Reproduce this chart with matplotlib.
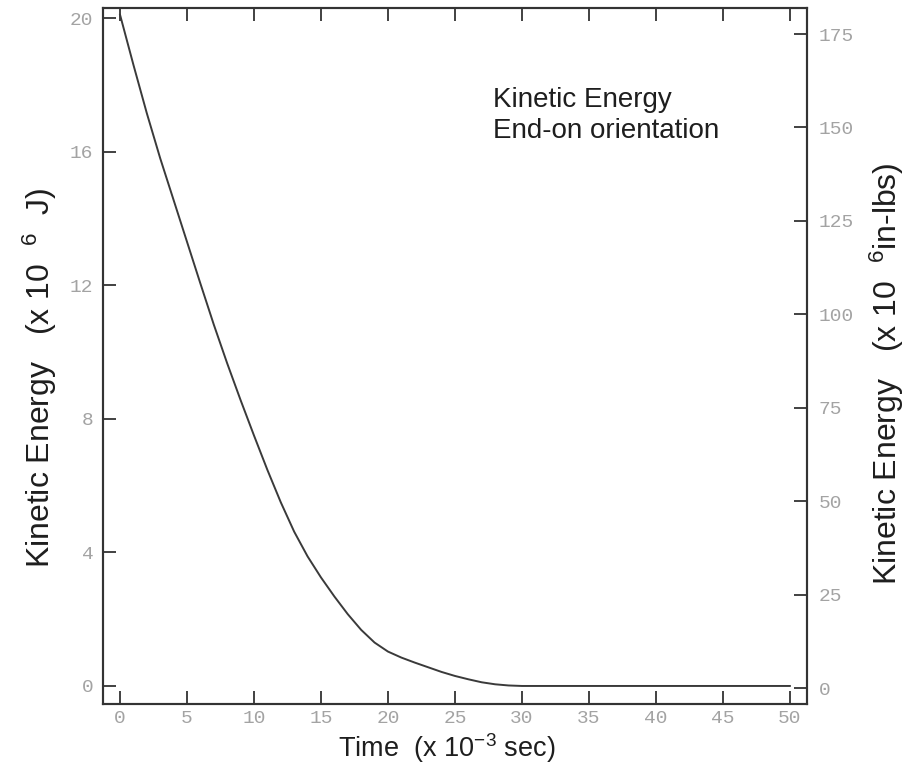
import matplotlib
matplotlib.use("Agg")
import matplotlib.pyplot as plt

plt.rcParams["font.family"] = ["Liberation Sans", "DejaVu Sans"]
plt.rcParams["mathtext.default"] = "regular"

time_ms = [0, 1, 2, 3, 4, 5, 6, 7, 8, 9, 10, 11, 12, 13, 14, 15, 16, 17, 18, 19,
           20, 21, 22, 23, 24, 25, 26, 27, 28, 29, 30, 35, 40, 45, 50]
ke_mj = [20.1, 18.6, 17.15, 15.8, 14.55, 13.3, 12.05, 10.82, 9.66, 8.56, 7.5,
         6.47, 5.5, 4.62, 3.88, 3.25, 2.68, 2.15, 1.68, 1.3, 1.03, 0.85, 0.70,
         0.56, 0.42, 0.30, 0.20, 0.11, 0.05, 0.015, 0.0, 0.0, 0.0, 0.0, 0.0]
x_ticks = [0, 5, 10, 15, 20, 25, 30, 35, 40, 45, 50]
y_ticks_left = [0, 4, 8, 12, 16, 20]
y_ticks_right = [0, 25, 50, 75, 100, 125, 150, 175]

W, H = 906, 769
fig = plt.figure(figsize=(W / 100, H / 100), dpi=100)
ax = fig.add_axes([103 / W, 1 - 704 / H, (807 - 103) / W, (704 - 8) / H])
ax.plot(time_ms, ke_mj, color="#3a3a3a", lw=1.4)
ax.set_xlim(-1.27, 51.28)
ax.set_ylim(-0.54, 20.3)

tick_font = dict(family="Liberation Mono", size=14, color="#a3a3a3")
ax.set_xticks(x_ticks)
ax.set_xticklabels([str(v) for v in x_ticks], **tick_font)
ax.set_yticks(y_ticks_left)
ax.set_yticklabels([str(v) for v in y_ticks_left], **tick_font)
ax.tick_params(axis="x", direction="in", length=9.5, width=1.3, top=True, pad=4, color="#333333")
ax.tick_params(axis="y", direction="in", length=9.5, width=1.3, pad=7, color="#333333")

ax2 = ax.twinx()
ax2.set_ylim(-4.28, 181.96)
ax2.set_yticks(y_ticks_right)
ax2.set_yticklabels([str(v) for v in y_ticks_right], **tick_font)
ax2.tick_params(axis="y", direction="in", length=9.5, width=1.3, pad=8.5, color="#333333")

for a in (ax, ax2):
    for s in a.spines.values():
        s.set_color("#333333")
        s.set_linewidth(1.5)

txt = dict(color="#1e1e1e")
fig.text(447 / W, 1 - 757 / H, "Time  (x 10$^{-3}$ sec)", ha="center", va="baseline",
         size=19.5, **txt)
fig.text(50 / W, 1 - 378 / H, "Kinetic Energy   (x 10  $^{6}$  J)", rotation=90,
         rotation_mode="anchor", ha="center", va="baseline", size=23, **txt)
fig.text(897 / W, 1 - 374 / H, "Kinetic Energy   (x 10  $^{6}$in-lbs)", rotation=90,
         rotation_mode="anchor", ha="center", va="baseline", size=23, **txt)

fig.text(493 / W, 1 - 106.7 / H, "Kinetic Energy", ha="left", va="baseline", size=20, **txt)
fig.text(493 / W, 1 - 138.3 / H, "End-on orientation", ha="left", va="baseline", size=20, **txt)

fig.savefig("out.png", dpi=100)
